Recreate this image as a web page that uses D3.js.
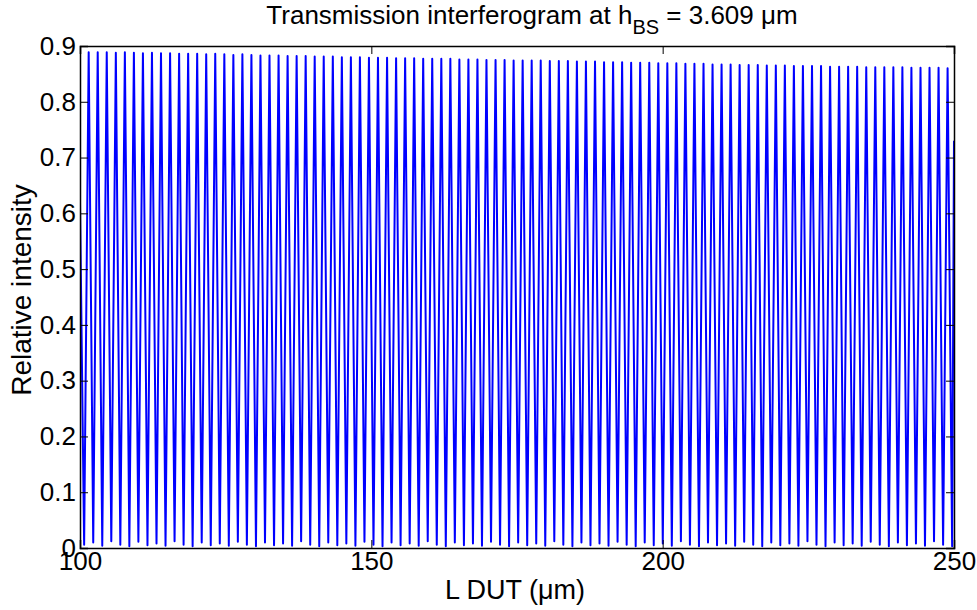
<!DOCTYPE html>
<html><head><meta charset="utf-8">
<script src="https://cdn.jsdelivr.net/npm/d3@7/dist/d3.min.js"></script>
<style>body{margin:0;background:#fff}svg{display:block}text{font-family:"Liberation Sans",Arial,sans-serif;fill:#000}</style>
</head><body>
<script>
const xTicks = [100, 150, 200, 250];
const yTicks = [0, 0.1, 0.2, 0.3, 0.4, 0.5, 0.6, 0.7, 0.8, 0.9];
const yTickLabels = ["0", "0.1", "0.2", "0.3", "0.4", "0.5", "0.6", "0.7", "0.8", "0.9"];
const startPoint = [100, 0.62];
const endPoint = [250, 0.73];
const peakX = [101.49,103.04,104.59,106.15,107.70,109.25,110.80,112.35,113.90,115.46,
117.01,118.56,120.11,121.66,123.21,124.77,126.32,127.87,129.42,130.97,
132.52,134.08,135.63,137.18,138.73,140.28,141.83,143.39,144.94,146.49,
148.04,149.59,151.14,152.70,154.25,155.80,157.35,158.90,160.45,162.01,
163.56,165.11,166.66,168.21,169.76,171.32,172.87,174.42,175.97,177.52,
179.07,180.63,182.18,183.73,185.28,186.83,188.39,189.94,191.49,193.04,
194.59,196.14,197.70,199.25,200.80,202.35,203.90,205.45,207.01,208.56,
210.11,211.66,213.21,214.76,216.32,217.87,219.42,220.97,222.52,224.07,
225.63,227.18,228.73,230.28,231.83,233.38,234.94,236.49,238.04,239.59,
241.14,242.69,244.25,245.80,247.35,248.90];
const peakY = [0.889,0.889,0.889,0.888,0.889,0.888,0.887,0.888,0.887,0.887,
0.886,0.886,0.886,0.885,0.886,0.885,0.884,0.885,0.884,0.883,
0.883,0.883,0.882,0.882,0.882,0.881,0.881,0.881,0.880,0.880,
0.880,0.879,0.879,0.879,0.878,0.878,0.878,0.877,0.877,0.877,
0.877,0.876,0.876,0.876,0.875,0.875,0.875,0.874,0.874,0.874,
0.874,0.873,0.873,0.873,0.872,0.872,0.872,0.871,0.871,0.871,
0.870,0.870,0.870,0.869,0.869,0.869,0.868,0.868,0.868,0.867,
0.867,0.867,0.866,0.866,0.866,0.865,0.865,0.865,0.864,0.864,
0.864,0.864,0.863,0.863,0.863,0.863,0.862,0.862,0.862,0.862,
0.862,0.861,0.861,0.861,0.861,0.860];
const troughX = [100.71,102.27,103.82,105.37,106.92,108.47,110.02,111.58,113.13,114.68,
116.23,117.78,119.33,120.89,122.44,123.99,125.54,127.09,128.64,130.20,
131.75,133.30,134.85,136.40,137.95,139.51,141.06,142.61,144.16,145.71,
147.27,148.82,150.37,151.92,153.47,155.02,156.58,158.13,159.68,161.23,
162.78,164.33,165.89,167.44,168.99,170.54,172.09,173.64,175.20,176.75,
178.30,179.85,181.40,182.95,184.51,186.06,187.61,189.16,190.71,192.26,
193.82,195.37,196.92,198.47,200.02,201.57,203.13,204.68,206.23,207.78,
209.33,210.88,212.44,213.99,215.54,217.09,218.64,220.19,221.75,223.30,
224.85,226.40,227.95,229.51,231.06,232.61,234.16,235.71,237.26,238.82,
240.37,241.92,243.47,245.02,246.57,248.13,249.68];
const troughY = [0.006,0.010,0.004,0.012,0.006,0.003,0.011,0.005,0.008,0.004,
0.012,0.006,0.003,0.010,0.005,0.008,0.004,0.011,0.006,0.003,
0.010,0.005,0.008,0.004,0.012,0.006,0.003,0.010,0.005,0.008,
0.004,0.011,0.006,0.003,0.010,0.005,0.008,0.004,0.012,0.006,
0.003,0.010,0.005,0.008,0.004,0.011,0.006,0.003,0.010,0.005,
0.008,0.004,0.012,0.006,0.003,0.010,0.005,0.008,0.004,0.011,
0.006,0.003,0.010,0.005,0.008,0.004,0.012,0.006,0.003,0.010,
0.005,0.008,0.004,0.011,0.006,0.003,0.010,0.005,0.008,0.004,
0.012,0.006,0.003,0.010,0.005,0.008,0.004,0.011,0.006,0.003,
0.010,0.005,0.008,0.004,0.012,0.006,0.003];

const W = 977, H = 610;
const m = {left: 80, right: 23, top: 46, bottom: 62};
const svg = d3.select("body").append("svg").attr("width", W).attr("height", H);
const x = d3.scaleLinear().domain([100, 250]).range([m.left, W - m.right]);
const y = d3.scaleLinear().domain([0, 0.9]).range([H - m.bottom, m.top]);

const pts = [startPoint];
for (let i = 0; i < troughX.length; i++) {
  pts.push([troughX[i], troughY[i]]);
  if (i < peakX.length) pts.push([peakX[i], peakY[i]]);
}
pts.push(endPoint);

svg.append("defs").append("clipPath").attr("id", "c").append("rect")
  .attr("x", m.left).attr("y", m.top - 2).attr("width", W - m.left - m.right).attr("height", H - m.top - m.bottom + 2);

svg.append("path").datum(pts)
  .attr("clip-path", "url(#c)")
  .attr("d", d3.line().x(d => x(d[0])).y(d => y(d[1])))
  .attr("fill", "none").attr("stroke", "#0000ff").attr("stroke-width", 2).attr("stroke-linejoin", "round");

const fs = 26;
const xb = svg.append("g").attr("transform", `translate(0,${H - m.bottom})`)
  .call(d3.axisBottom(x).tickValues(xTicks).tickSize(-8).tickPadding(6).tickFormat(d3.format("d")));
const xt = svg.append("g").attr("transform", `translate(0,${m.top})`)
  .call(d3.axisTop(x).tickValues(xTicks).tickSize(-8).tickFormat(""));
const yl = svg.append("g").attr("transform", `translate(${m.left},0)`)
  .call(d3.axisLeft(y).tickValues(yTicks).tickSize(-8).tickPadding(4).tickFormat((d, i) => yTickLabels[i]));
const yr = svg.append("g").attr("transform", `translate(${W - m.right},0)`)
  .call(d3.axisRight(y).tickValues(yTicks).tickSize(-8).tickFormat(""));
[xb, xt, yl, yr].forEach(g => {
  g.select(".domain").attr("stroke", "#000").attr("stroke-width", 1.5);
  g.selectAll(".tick line").attr("stroke", "#000").attr("stroke-width", 1);
  g.selectAll("text").attr("font-size", fs).attr("font-family", '"Liberation Sans",Arial,sans-serif').attr("fill", "#000");
});
xb.selectAll(".tick text").attr("dy", "0.62em");

const t = svg.append("text").attr("x", 532).attr("y", 24)
  .attr("text-anchor", "middle").attr("font-size", fs);
t.append("tspan").text("Transmission interferogram at h");
t.append("tspan").attr("font-size", 20).attr("dy", 10).text("BS");
t.append("tspan").attr("dy", -10).text(" = 3.609 μm");

svg.append("text").attr("x", 515).attr("y", 599)
  .attr("text-anchor", "middle").attr("font-size", 27).text("L DUT (μm)");
svg.append("text").attr("transform", `translate(31,290) rotate(-90)`)
  .attr("text-anchor", "middle").attr("font-size", 28).text("Relative intensity");
</script>
</body></html>
